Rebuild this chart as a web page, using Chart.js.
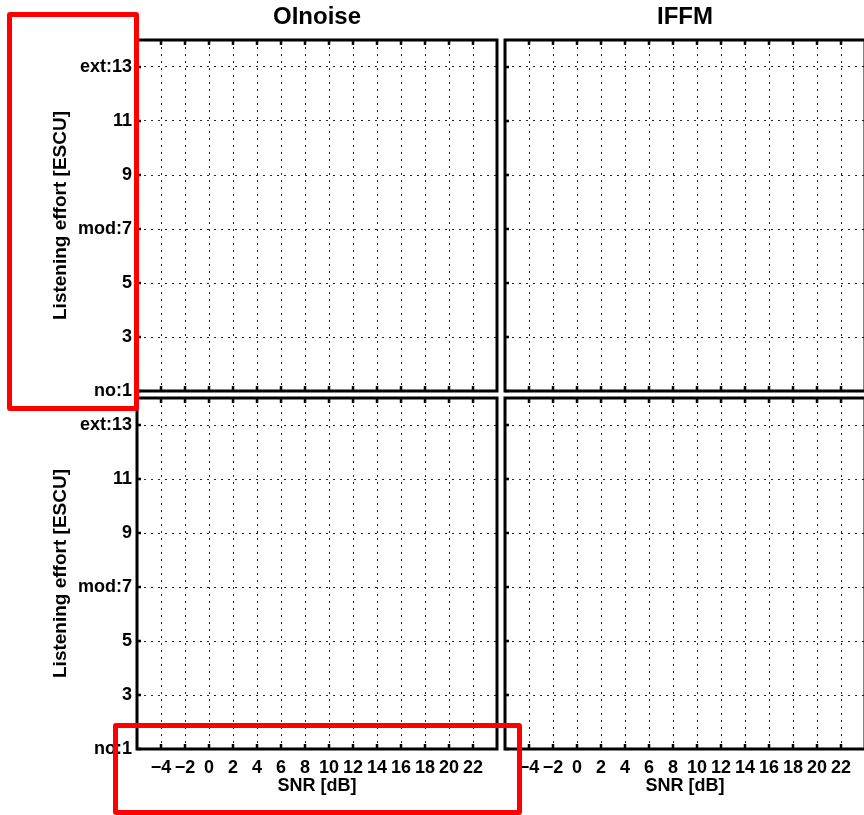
<!DOCTYPE html>
<html>
<head>
<meta charset="utf-8">
<script src="https://cdn.jsdelivr.net/npm/chart.js@4/dist/chart.umd.min.js"></script>
<style>
  html, body { margin: 0; padding: 0; background: #fff; overflow: hidden; }
  #stage { position: relative; width: 864px; height: 815px; overflow: hidden; background: #fff; }
  #stage canvas { position: absolute; left: 0; top: 0; }
  .mark { position: absolute; border: 5px solid #ff0000; border-radius: 3px; box-sizing: border-box; pointer-events: none; }
</style>
</head>
<body>
<div id="stage">
  <canvas id="topLeft" width="880" height="815"></canvas>
  <canvas id="topRight" width="880" height="815"></canvas>
  <canvas id="bottomLeft" width="880" height="815"></canvas>
  <canvas id="bottomRight" width="880" height="815"></canvas>
  <div class="mark" style="left:7px;top:12px;width:132px;height:399px"></div>
  <div class="mark" style="left:113px;top:723px;width:409px;height:92px"></div>
</div>
<script>
// Column titles, axis ranges and tick labels for the 2x2 grid of empty panels
const panelTitles = ['OInoise', 'IFFM'];
const xRange = [-6, 24];
const xTickValues = [-4, -2, 0, 2, 4, 6, 8, 10, 12, 14, 16, 18, 20, 22];
const yRange = [1, 14];
const yTickValues = [1, 3, 5, 7, 9, 11, 13];
const yTickLabels = ['no:1', '3', '5', 'mod:7', '9', '11', 'ext:13'];
const xAxisTitle = 'SNR [dB]';
const yAxisTitle = 'Listening effort [ESCU]';

Chart.defaults.font.family = "'Liberation Sans', Arial, Helvetica, sans-serif";
Chart.defaults.color = '#000';

const formatX = v => (v < 0 ? '\u2212' + Math.abs(v) : String(v));
const formatY = v => yTickLabels[yTickValues.indexOf(v)] ?? '';

// Box outline plus inward tick marks, drawn through the chart's own scales
const framePlugin = {
  id: 'frame',
  afterDraw(chart) {
    const { ctx, chartArea: a, scales: { x, y } } = chart;
    ctx.save();
    ctx.strokeStyle = '#000';
    ctx.lineWidth = 2.5;
    ctx.beginPath();
    x.ticks.forEach(t => {
      const px = x.getPixelForValue(t.value);
      ctx.moveTo(px, a.top); ctx.lineTo(px, a.top + 5);
      ctx.moveTo(px, a.bottom); ctx.lineTo(px, a.bottom - 5);
    });
    y.ticks.forEach(t => {
      const py = y.getPixelForValue(t.value);
      ctx.moveTo(a.left, py); ctx.lineTo(a.left + 4, py);
    });
    ctx.stroke();
    ctx.lineWidth = 3;
    ctx.strokeRect(a.left, a.top, a.right - a.left, a.bottom - a.top);
    ctx.restore();
  }
};

function makePanel(id, opts) {
  const { title, showX, showY, padding } = opts;
  const tickFont = { size: 18, weight: 'bold' };
  return new Chart(document.getElementById(id), {
    type: 'scatter',
    data: { datasets: [] },
    options: {
      responsive: false,
      animation: false,
      events: [],
      layout: { padding, autoPadding: false },
      plugins: {
        legend: { display: false },
        tooltip: { enabled: false },
        title: {
          display: !!title,
          text: title || '',
          fullSize: false,
          color: '#000',
          font: { size: 24, weight: 'bold' },
          padding: { top: 2.6, bottom: 8.6 }
        }
      },
      scales: {
        x: {
          type: 'linear',
          min: xRange[0],
          max: xRange[1],
          afterBuildTicks: s => { s.ticks = xTickValues.map(v => ({ value: v })); },
          afterFit: s => { s.height = showX ? 48 : 0; s.paddingLeft = 0; s.paddingRight = 0; },
          grid: { color: '#222', lineWidth: 1, drawTicks: false },
          border: { display: false, dash: [2, 5] },
          ticks: {
            display: showX, padding: 8, color: '#000', font: tickFont,
            autoSkip: false, maxRotation: 0, minRotation: 0, callback: formatX
          },
          title: { display: showX, text: xAxisTitle, color: '#000', font: tickFont, padding: 0 }
        },
        y: {
          type: 'linear',
          min: yRange[0],
          max: yRange[1],
          afterBuildTicks: s => { s.ticks = yTickValues.map(v => ({ value: v })); },
          afterFit: s => { s.width = showY ? 88 : 0; s.paddingTop = 0; s.paddingBottom = 0; },
          grid: { color: '#222', lineWidth: 1, drawTicks: false },
          border: { display: false, dash: [2, 5] },
          ticks: {
            display: showY, padding: 5, color: '#000', font: tickFont,
            autoSkip: false, callback: formatY
          },
          title: {
            display: showY, text: yAxisTitle, color: '#000',
            font: { size: 19, weight: 'bold' }, padding: 0
          }
        }
      }
    },
    plugins: [framePlugin]
  });
}

makePanel('topLeft', {
  title: panelTitles[0], showX: false, showY: true,
  padding: { left: 49, top: 0, right: 383, bottom: 424 }
});
makePanel('topRight', {
  title: panelTitles[1], showX: false, showY: false,
  padding: { left: 505, top: 0, right: 15, bottom: 424 }
});
makePanel('bottomLeft', {
  title: null, showX: true, showY: true,
  padding: { left: 49, top: 398, right: 383, bottom: 18 }
});
makePanel('bottomRight', {
  title: null, showX: true, showY: false,
  padding: { left: 505, top: 398, right: 15, bottom: 18 }
});
</script>
</body>
</html>
